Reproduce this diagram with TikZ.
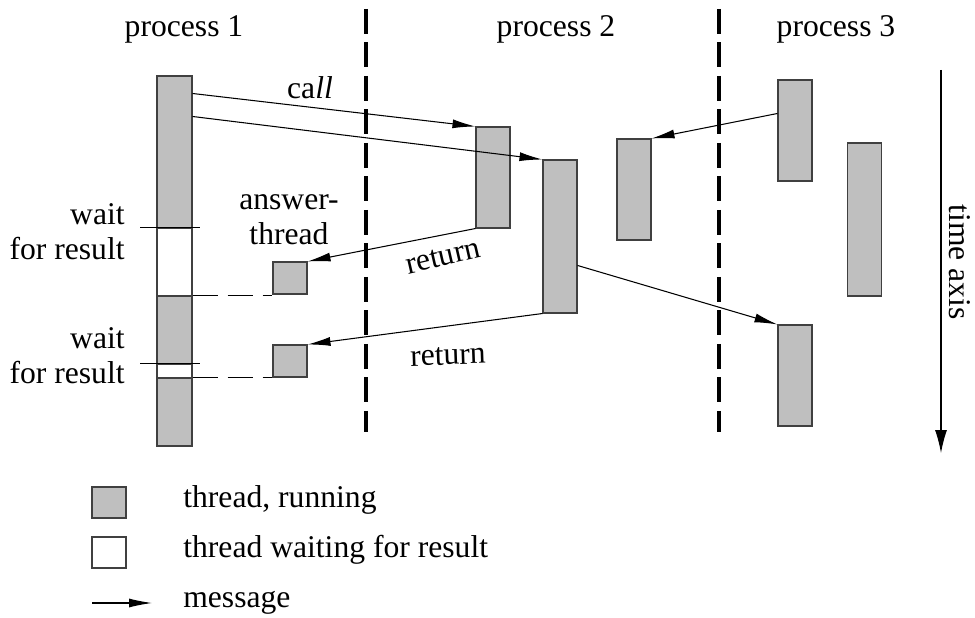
\documentclass[tikz,border=0pt]{standalone}
\usepackage{fontspec}
\setmainfont{Liberation Serif}
\usetikzlibrary{arrows.meta}
\definecolor{thrgray}{RGB}{191,191,191}
\tikzstyle{thread} = [rectangle, draw=black!75, line width=0.6pt, fill=thrgray, inner sep=0pt, minimum width=0.68cm]
\tikzstyle{waiting} = [thread, fill=white]
\tikzstyle{msg} = [line width=0.6pt, -{Latex[length=0.46cm,width=0.18cm]}]
\tikzstyle{sep} = [line width=2.5pt, dash pattern=on 0.5cm off 0.17cm]
\tikzstyle{txt} = [font=\fontsize{18}{20}\selectfont, inner sep=0pt]

\begin{document}
\begin{tikzpicture}[x=0.02cm, y=-0.02cm]
\useasboundingbox (0,0) rectangle (975,618);

% process names and borders
\node (pname1) [txt, anchor=base] at (184,37) {process 1};
\node (pname2) [txt, anchor=base] at (556,37) {process 2};
\node (pname3) [txt, anchor=base] at (836,37) {process 3};
\draw [sep] (366,9) -- (366,432);
\draw [sep] (719,9) -- (719,432);

% process 1
\node (p1a) [thread, minimum width=0.7cm, minimum height=3.04cm] at (174.5,152) {};
\node (p1w1) [waiting, minimum width=0.7cm, minimum height=1.36cm] at (174.5,262) {};
\node (p1b) [thread, minimum width=0.7cm, minimum height=1.36cm] at (174.5,330) {};
\node (p1w2) [waiting, minimum width=0.7cm, minimum height=0.28cm] at (174.5,371) {};
\node (p1c) [thread, minimum width=0.7cm, minimum height=1.36cm] at (174.5,412) {};
\node (ans1) [thread, minimum height=0.64cm] at (290,278) {};
\node (ans2) [thread, minimum height=0.64cm] at (290,361) {};

% process 2
\node (tA) [thread, minimum height=2.02cm] at (493,177.5) {};
\node (tB) [thread, minimum height=3.06cm] at (560,236.5) {};
\node (tC) [thread, minimum height=2.02cm] at (634,189.5) {};

% process 3
\node (tD) [thread, minimum height=2.02cm] at (795,130.5) {};
\node (tE) [thread, minimum height=3.06cm] at (864.5,219.5) {};
\node (tF) [thread, minimum height=2.02cm] at (795,375.5) {};

% waiting marks
\draw [line width=1.1pt] ([xshift=-0.32cm]p1w1.north west) -- ([xshift=0.14cm]p1w1.north east);
\draw [line width=1.1pt] ([xshift=-0.32cm]p1w2.north west) -- ([xshift=0.14cm]p1w2.north east);
\draw [line width=0.6pt, dash pattern=on 0.5cm off 0.2cm] (p1b.north east) -- (p1b.north east -| ans1.west);
\draw [line width=0.6pt, dash pattern=on 0.5cm off 0.2cm] (p1c.north east) -- (p1c.north east -| ans2.west);
\node (wait1) [txt, anchor=base east, align=right] at (125,260) {wait\\for result};
\node (wait2) [txt, anchor=base east, align=right] at (125,384) {wait\\for result};
\node (answ) [txt, anchor=base, align=center] at (289,245) {answer-\\thread};

% messages
\draw [msg] ([yshift=-0.36cm]p1a.north east) -- (tA.north west);
\draw [msg] ([yshift=-0.82cm]p1a.north east) -- (tB.north west);
\draw [msg] (tA.south west) -- (ans1.north east);
\draw [msg] ([yshift=-0.68cm]tD.north west) -- (tC.north east);
\draw [msg] ([yshift=-2.12cm]tB.north east) -- (tF.north west);
\draw [msg] (tB.south west) -- (ans2.north east);
\node (call) [txt] at (310,88) {ca\textit{ll}};
\node (ret1) [txt, rotate=13] at (443,257) {return};
\node (ret2) [txt, rotate=2] at (448,356) {return};

% time axis
\coordinate (tstart) at (941,70);
\coordinate (tend) at (941,453);
\draw [line width=0.6pt, -{Latex[length=0.46cm,width=0.24cm]}] (tstart) -- (tend);
\node (taxis) [txt, rotate=-90] at (960,262) {time axis};

% legend
\node (keyrun) [thread, minimum height=0.62cm] at (109,502.5) {};
\node (keywait) [waiting, minimum height=0.62cm] at (109,552.5) {};
\coordinate (keymsgA) at (92,603);
\coordinate (keymsgB) at (152,603);
\draw [msg] (keymsgA) -- (keymsgB);
\node (keyruntxt) [txt, anchor=base west] at (183,508) {thread, running};
\node (keywaittxt) [txt, anchor=base west] at (183,558) {thread waiting for result};
\node (keymsgtxt) [txt, anchor=base west] at (183,608) {message};
\end{tikzpicture}
\end{document}
